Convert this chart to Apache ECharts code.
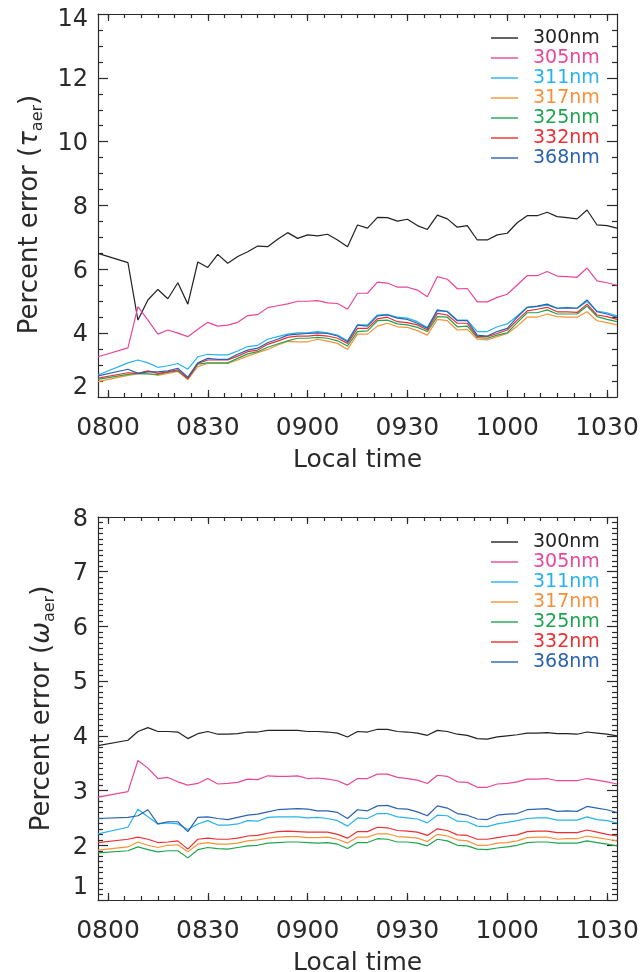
<!DOCTYPE html>
<html><head><meta charset="utf-8">
<script src="https://cdn.jsdelivr.net/npm/echarts@6/dist/echarts.min.js"></script>
<style>html,body{margin:0;padding:0;background:#fff}#c{width:642px;height:972px}</style>
</head><body><div id="c"></div>
<script>
// minutes after 08:00
const times = [-3, 6, 9, 12, 15, 18, 21, 24, 27, 30, 33, 36, 39, 42, 45, 48, 51, 54, 57, 60, 63, 66, 69, 72, 75,
  78, 81, 84, 87, 90, 93, 96, 99, 102, 105, 108, 111, 114, 117, 120, 123, 126, 129, 132, 135, 138, 141, 144, 147, 150, 153];

const seriesNames = ['300nm', '305nm', '311nm', '317nm', '325nm', '332nm', '368nm'];
const seriesColors = ['#222222', '#e8479a', '#27b4ec', '#f7923a', '#1fa54f', '#ec2f33', '#2b62b0'];

// Top panel: percent error in tau_aer
const tau300 = [6.50, 6.21, 4.41, 5.04, 5.37, 5.08, 5.58, 4.91, 6.23, 6.06, 6.47, 6.19, 6.40, 6.55, 6.73, 6.71, 6.94, 7.15, 6.97, 7.08, 7.05, 7.10, 6.92, 6.71, 7.39,
  7.29, 7.63, 7.62, 7.51, 7.57, 7.37, 7.25, 7.70, 7.58, 7.32, 7.37, 6.92, 6.92, 7.08, 7.13, 7.46, 7.68, 7.68, 7.79, 7.65, 7.62, 7.58, 7.86, 7.39, 7.37, 7.29];
const tau305 = [3.26, 3.54, 4.83, 4.41, 3.97, 4.10, 4.00, 3.89, 4.12, 4.34, 4.22, 4.25, 4.34, 4.55, 4.58, 4.80, 4.86, 4.92, 5.00, 5.00, 5.02, 4.95, 4.93, 4.75, 5.25,
  5.25, 5.60, 5.57, 5.44, 5.44, 5.35, 5.14, 5.77, 5.69, 5.39, 5.40, 4.98, 4.98, 5.12, 5.22, 5.51, 5.80, 5.80, 5.93, 5.79, 5.77, 5.75, 6.04, 5.64, 5.58, 5.50];
const tau311 = [2.69, 3.07, 3.16, 3.07, 2.93, 2.98, 3.05, 2.87, 3.26, 3.34, 3.32, 3.32, 3.44, 3.58, 3.62, 3.81, 3.89, 3.97, 4.01, 4.01, 4.05, 4.01, 3.94, 3.76, 4.26,
  4.26, 4.57, 4.59, 4.50, 4.47, 4.36, 4.18, 4.70, 4.69, 4.41, 4.41, 4.05, 4.05, 4.20, 4.29, 4.54, 4.81, 4.83, 4.88, 4.78, 4.81, 4.78, 4.99, 4.69, 4.64, 4.54];
const tau317 = [2.48, 2.68, 2.72, 2.74, 2.68, 2.74, 2.80, 2.55, 2.95, 3.05, 3.05, 3.05, 3.16, 3.28, 3.39, 3.49, 3.63, 3.74, 3.73, 3.73, 3.81, 3.75, 3.68, 3.49, 3.97,
  3.97, 4.22, 4.31, 4.20, 4.18, 4.08, 3.94, 4.43, 4.39, 4.10, 4.12, 3.81, 3.79, 3.89, 3.99, 4.22, 4.50, 4.50, 4.60, 4.52, 4.50, 4.50, 4.67, 4.39, 4.33, 4.26];
const tau325 = [2.55, 2.71, 2.74, 2.72, 2.71, 2.78, 2.82, 2.57, 3.03, 3.07, 3.07, 3.07, 3.21, 3.35, 3.42, 3.56, 3.66, 3.76, 3.84, 3.84, 3.87, 3.84, 3.76, 3.60, 4.05,
  4.07, 4.39, 4.41, 4.29, 4.26, 4.18, 4.05, 4.52, 4.50, 4.20, 4.22, 3.86, 3.84, 3.94, 4.01, 4.33, 4.64, 4.64, 4.73, 4.60, 4.60, 4.60, 4.85, 4.52, 4.43, 4.36];
const tau332 = [2.59, 2.76, 2.74, 2.82, 2.74, 2.79, 2.85, 2.57, 3.05, 3.16, 3.16, 3.16, 3.28, 3.42, 3.47, 3.65, 3.75, 3.87, 3.91, 3.91, 3.94, 3.91, 3.84, 3.68, 4.15,
  4.15, 4.45, 4.50, 4.36, 4.33, 4.26, 4.10, 4.62, 4.57, 4.31, 4.31, 3.89, 3.89, 3.99, 4.10, 4.41, 4.70, 4.75, 4.81, 4.67, 4.67, 4.65, 4.91, 4.57, 4.52, 4.43];
const tau368 = [2.66, 2.87, 2.74, 2.79, 2.79, 2.82, 2.90, 2.62, 3.07, 3.21, 3.18, 3.18, 3.34, 3.47, 3.53, 3.70, 3.81, 3.94, 3.97, 3.99, 4.01, 3.99, 3.91, 3.73, 4.25,
  4.22, 4.54, 4.57, 4.47, 4.43, 4.31, 4.15, 4.73, 4.67, 4.39, 4.39, 3.94, 3.91, 4.05, 4.15, 4.50, 4.81, 4.85, 4.91, 4.78, 4.79, 4.78, 5.04, 4.67, 4.60, 4.50];

// Bottom panel: percent error in omega_aer
const omega300 = [3.82, 3.92, 4.08, 4.15, 4.08, 4.08, 4.07, 3.95, 4.04, 4.08, 4.03, 4.03, 4.04, 4.07, 4.07, 4.10, 4.10, 4.10, 4.10, 4.08, 4.08, 4.07, 4.05, 3.98, 4.08,
  4.07, 4.12, 4.12, 4.08, 4.07, 4.05, 4.01, 4.10, 4.08, 4.03, 4.01, 3.95, 3.94, 3.98, 4.00, 4.02, 4.05, 4.05, 4.06, 4.04, 4.04, 4.03, 4.07, 4.05, 4.03, 4.00];
const omega305 = [2.88, 2.98, 3.55, 3.41, 3.22, 3.24, 3.16, 3.10, 3.13, 3.22, 3.12, 3.13, 3.15, 3.21, 3.20, 3.27, 3.26, 3.26, 3.27, 3.22, 3.23, 3.21, 3.18, 3.10, 3.22,
  3.22, 3.30, 3.30, 3.24, 3.22, 3.19, 3.13, 3.28, 3.26, 3.16, 3.15, 3.06, 3.06, 3.12, 3.13, 3.16, 3.21, 3.21, 3.22, 3.18, 3.18, 3.18, 3.22, 3.19, 3.16, 3.12];
const omega311 = [2.21, 2.33, 2.66, 2.52, 2.39, 2.41, 2.39, 2.29, 2.39, 2.45, 2.37, 2.37, 2.39, 2.45, 2.44, 2.51, 2.52, 2.52, 2.52, 2.50, 2.51, 2.49, 2.45, 2.35, 2.50,
  2.49, 2.58, 2.58, 2.52, 2.50, 2.48, 2.41, 2.55, 2.54, 2.44, 2.43, 2.35, 2.34, 2.39, 2.42, 2.45, 2.49, 2.50, 2.50, 2.46, 2.46, 2.46, 2.52, 2.47, 2.45, 2.41];
const omega317 = [1.91, 1.97, 2.06, 2.00, 1.96, 2.00, 2.01, 1.88, 2.02, 2.05, 2.02, 2.02, 2.04, 2.08, 2.10, 2.13, 2.15, 2.16, 2.16, 2.14, 2.14, 2.15, 2.11, 2.04, 2.15,
  2.15, 2.21, 2.21, 2.16, 2.15, 2.13, 2.07, 2.20, 2.17, 2.10, 2.08, 2.00, 2.00, 2.04, 2.05, 2.08, 2.14, 2.15, 2.15, 2.11, 2.12, 2.12, 2.17, 2.14, 2.11, 2.08];
const omega325 = [1.86, 1.90, 1.97, 1.92, 1.88, 1.90, 1.90, 1.77, 1.92, 1.96, 1.94, 1.93, 1.96, 1.99, 2.00, 2.04, 2.05, 2.06, 2.06, 2.05, 2.04, 2.05, 2.02, 1.94, 2.05,
  2.05, 2.12, 2.11, 2.06, 2.06, 2.04, 1.99, 2.11, 2.08, 2.00, 1.99, 1.93, 1.92, 1.95, 1.97, 2.00, 2.05, 2.06, 2.06, 2.04, 2.04, 2.04, 2.08, 2.05, 2.02, 1.99];
const omega332 = [2.05, 2.11, 2.15, 2.11, 2.05, 2.06, 2.08, 1.93, 2.11, 2.13, 2.11, 2.11, 2.13, 2.17, 2.18, 2.22, 2.25, 2.26, 2.25, 2.24, 2.24, 2.24, 2.20, 2.13, 2.25,
  2.25, 2.33, 2.32, 2.27, 2.26, 2.24, 2.18, 2.30, 2.27, 2.19, 2.18, 2.11, 2.11, 2.14, 2.17, 2.19, 2.25, 2.26, 2.26, 2.23, 2.23, 2.23, 2.28, 2.24, 2.20, 2.17];
const omega368 = [2.49, 2.51, 2.54, 2.65, 2.39, 2.43, 2.43, 2.25, 2.51, 2.52, 2.49, 2.47, 2.51, 2.55, 2.57, 2.61, 2.65, 2.66, 2.67, 2.66, 2.63, 2.63, 2.60, 2.49, 2.65,
  2.63, 2.72, 2.73, 2.67, 2.66, 2.61, 2.54, 2.72, 2.68, 2.58, 2.55, 2.48, 2.47, 2.55, 2.57, 2.58, 2.65, 2.66, 2.67, 2.62, 2.63, 2.62, 2.71, 2.68, 2.65, 2.60];

const xTickValues = [0, 30, 60, 90, 120, 150];
const xTickLabels = ['0800', '0830', '0900', '0930', '1000', '1030'];
const xMinorTickValues = [0, 5, 10, 15, 20, 25, 30, 35, 40, 45, 50, 55, 60, 65, 70, 75, 80, 85, 90, 95, 100, 105, 110, 115, 120, 125, 130, 135, 140, 145, 150];

const tauSeries = [tau300, tau305, tau311, tau317, tau325, tau332, tau368];
const omegaSeries = [omega300, omega305, omega311, omega317, omega325, omega332, omega368];

const FONT = 'DejaVu Sans';
const INK = '#2a2a2a';
const axisLineStyle = { color: INK, width: 1.2 };

function xAxesFor(grid) {
  const base = {
    type: 'value', gridIndex: grid, min: -3, max: 153,
    splitLine: { show: false }, axisLabel: { show: false },
    axisLine: { show: false, onZero: false, lineStyle: axisLineStyle }
  };
  return [
    Object.assign({}, base, {
      position: 'bottom',
      axisLine: { show: true, onZero: false, lineStyle: axisLineStyle },
      axisTick: { show: true, inside: true, length: 7, customValues: xTickValues, lineStyle: axisLineStyle },
      axisLabel: {
        show: true, customValues: xTickValues, margin: 19,
        formatter: v => xTickLabels[xTickValues.indexOf(v)] || '',
        fontSize: 25, fontFamily: FONT, color: INK
      },
      name: 'Local time', nameLocation: 'middle', nameGap: 51,
      nameTextStyle: { fontSize: 25, fontFamily: FONT, color: INK }
    }),
    Object.assign({}, base, {
      position: 'bottom',
      axisTick: { show: true, inside: true, length: 4, customValues: xMinorTickValues, lineStyle: axisLineStyle }
    }),
    Object.assign({}, base, {
      position: 'top',
      axisLine: { show: true, onZero: false, lineStyle: axisLineStyle },
      axisTick: { show: true, inside: true, length: 7, customValues: xTickValues, lineStyle: axisLineStyle }
    }),
    Object.assign({}, base, {
      position: 'top',
      axisTick: { show: true, inside: true, length: 4, customValues: xMinorTickValues, lineStyle: axisLineStyle }
    })
  ];
}

function yAxesFor(grid, min, max, interval, minorSplit, nameText, nameGap, namePad, loPad, hiPad) {
  const base = {
    type: 'value', gridIndex: grid, min: min, max: max, interval: interval,
    splitLine: { show: false }, minorSplitLine: { show: false },
    axisLine: { show: true, onZero: false, lineStyle: axisLineStyle },
    axisTick: { show: true, inside: true, length: 10, lineStyle: axisLineStyle },
    minorTick: { show: true, splitNumber: minorSplit, length: 5, lineStyle: axisLineStyle }
  };
  const lab = { fontSize: 24, fontFamily: FONT, color: INK };
  return [
    Object.assign({}, base, {
      position: 'left',
      axisLabel: {
        show: true, margin: 10, fontSize: 24, fontFamily: FONT, color: INK,
        formatter: v => (v === min ? '{lo|' + v + '}' : (v === max ? '{hi|' + v + '}' : '{n|' + v + '}')),
        rich: {
          n: Object.assign({ padding: [4, 0, 0, 0] }, lab),
          lo: Object.assign({ padding: [0, 0, loPad, 0] }, lab),
          hi: Object.assign({ padding: [hiPad, 0, 0, 0] }, lab)
        }
      },
      name: nameText, nameLocation: 'middle', nameRotate: 90, nameGap: nameGap,
      nameTextStyle: {
        fontFamily: FONT, color: INK, padding: [0, namePad, 0, 0],
        rich: {
          a: { fontSize: 26, fontFamily: FONT, color: INK, lineHeight: 32 },
          g: { fontSize: 26, fontFamily: FONT, color: INK, fontStyle: 'italic', lineHeight: 32 },
          s: { fontSize: 16, fontFamily: FONT, color: INK, lineHeight: 18, verticalAlign: 'bottom' }
        }
      }
    }),
    Object.assign({}, base, { position: 'right', axisLabel: { show: false } })
  ];
}

function legendFor(top) {
  return {
    orient: 'vertical', left: 491, top: top, padding: 0, itemGap: 0,
    icon: 'rect', itemWidth: 27, itemHeight: 1.4, selectedMode: false,
    textStyle: { fontSize: 19, fontFamily: FONT, lineHeight: 20, padding: [0, 0, 0, 10] },
    data: seriesNames.map((n, i) => ({ name: n, textStyle: { color: seriesColors[i] } }))
  };
}

const series = [];
seriesNames.forEach((n, i) => {
  series.push({
    name: n, type: 'line', xAxisIndex: 0, yAxisIndex: 0, symbol: 'none',
    lineStyle: { color: seriesColors[i], width: 1.2 }, itemStyle: { color: seriesColors[i] },
    data: times.map((t, j) => [t, tauSeries[i][j]])
  });
});
seriesNames.forEach((n, i) => {
  series.push({
    name: n, type: 'line', xAxisIndex: 4, yAxisIndex: 2, symbol: 'none',
    lineStyle: { color: seriesColors[i], width: 1.2 }, itemStyle: { color: seriesColors[i] },
    data: times.map((t, j) => [t, omegaSeries[i][j]])
  });
});

const chart = echarts.init(document.getElementById('c'), null, { renderer: 'canvas' });
chart.setOption({
  animation: false,
  backgroundColor: '#ffffff',
  grid: [
    { left: 98, right: 25, top: 14, height: 383, containLabel: false, outerBoundsMode: 'none' },
    { left: 98, right: 25, top: 517, height: 383, containLabel: false, outerBoundsMode: 'none' }
  ],
  legend: [legendFor(28), legendFor(532)],
  xAxis: xAxesFor(0).concat(xAxesFor(1)),
  yAxis: yAxesFor(0, 2, 14, 2, 4, '{a|Percent error (}{g|τ}{s|aer}{a|)}', 52, 18, 18, 12)
    .concat(yAxesFor(1, 1, 8, 1, 10, '{a|Percent error (}{g|ω}{s|aer}{a|)}', 40, 0, 24, 6)),
  series: series
});
</script>
</body></html>
